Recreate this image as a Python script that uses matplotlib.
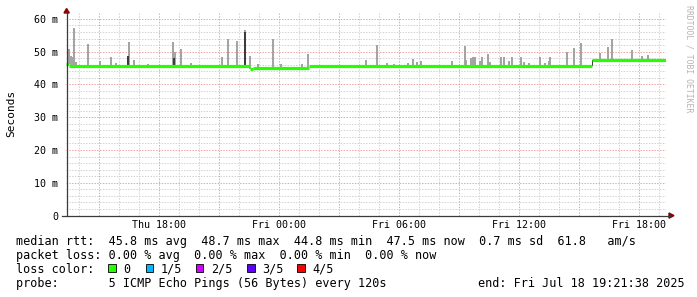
import matplotlib
matplotlib.use("Agg")
import matplotlib.pyplot as plt
import numpy as np
from matplotlib.lines import Line2D
from matplotlib.patches import Polygon, Rectangle

W, H = 697, 297
MONO = "DejaVu Sans Mono"

# time axis: hours since Thu 00:00
T_START = 13.3606   # Thu 13:21:38
T_END = 43.3606     # Fri 19:21:38

# median rtt in ms (step segments: start time, value)
med_t = [13.36, 13.50, 22.55, 22.70, 25.50, 39.68]
med_v = [46.3, 45.5, 44.8, 45.1, 45.6, 47.6]

# smoke: max ping per spike (time h, top ms)
spike_t = [13.49, 13.61, 13.71, 13.76, 13.86, 14.46, 15.06, 15.63, 15.86, 16.51,
           16.74, 17.46, 18.71, 18.81, 19.11, 19.63, 21.16, 21.46, 21.91, 22.31,
           22.58, 22.96, 23.73, 24.11, 25.15, 25.46, 28.36, 28.89, 29.41, 29.76,
           30.46, 30.73, 30.91, 31.11, 32.66, 33.31, 33.36, 33.61, 33.71, 33.81,
           34.06, 34.16, 34.46, 34.56, 35.11, 35.24, 35.51, 35.64, 36.11, 36.26,
           36.51, 37.04, 37.31, 37.51, 37.56, 38.43, 38.74, 38.76, 39.11, 40.04,
           40.46, 40.66, 41.66, 42.16, 42.46]
spike_top = [50.7, 48.6, 48.5, 57.1, 46.7, 52.2, 47.0, 48.5, 46.6, 52.9,
             47.4, 46.2, 52.9, 49.8, 50.9, 46.4, 48.5, 53.9, 53.2, 56.5,
             48.6, 46.3, 53.9, 46.2, 46.3, 49.3, 47.4, 52.0, 46.4, 46.3,
             46.6, 47.7, 46.8, 47.0, 47.0, 51.7, 47.4, 48.2, 48.3, 48.5,
             47.2, 48.3, 49.3, 46.7, 48.3, 48.3, 47.0, 48.5, 48.3, 46.8,
             46.4, 48.3, 46.6, 47.3, 48.5, 49.8, 47.5, 51.0, 52.5, 49.5,
             51.3, 54.0, 50.6, 48.6, 49.0]

# darker inner smoke
dark_t = [13.45, 16.46, 18.76, 22.31, 39.68]
dark_lo = [45.5, 45.2, 45.3, 45.5, 45.5]
dark_hi = [47.6, 48.7, 48.0, 56.0, 47.6]

xtick_pos = [18, 24, 30, 36, 42]
xtick_lab = ["Thu 18:00", "Fri 00:00", "Fri 06:00", "Fri 12:00", "Fri 18:00"]
ytick_pos = [0, 10, 20, 30, 40, 50, 60]
ytick_lab = ["0", "10 m", "20 m", "30 m", "40 m", "50 m", "60 m"]

loss_lab = ["0", "1/5", "2/5", "3/5", "4/5"]
loss_col = ["#26ff00", "#00b8ff", "#d000ff", "#5e00ff", "#ff0000"]


def fx(px):
    return px / W


def fy(py):
    return 1 - py / H


fig = plt.figure(figsize=(W / 100, H / 100), dpi=100)
fig.patch.set_facecolor("white")

# plot area: x 66..666 px, y 13..215.5 px
ax = fig.add_axes([fx(66), fy(215.5), 600 / W, 202.5 / H])
ax.set_xlim(T_START, T_END)
ax.set_ylim(0, 61.8)
for s in ax.spines.values():
    s.set_visible(False)

# grid
dots = (0, (1.4, 1.4))
for h in range(14, 44):
    c = "#eda3a3" if h % 3 == 0 else "#d2d2d2"
    ax.axvline(h, color=c, lw=0.72, ls=dots, zorder=1)
for v in range(2, 62, 2):
    c = "#eda3a3" if v % 10 == 0 else "#d2d2d2"
    ax.axhline(v, color=c, lw=0.72, ls=dots, zorder=1)

# smoke
base = np.array(med_v)[np.searchsorted(med_t, spike_t, side="right") - 1]
ax.bar(spike_t, np.array(spike_top) - base, width=0.1, bottom=base,
       color="#a4a4a4", align="center", zorder=2)
ax.bar(dark_t, np.array(dark_hi) - np.array(dark_lo), width=0.07,
       bottom=dark_lo, color="#3c3c3c", zorder=3)

# median line
ends = med_t[1:] + [T_END]
ax.hlines(med_v, med_t, ends, colors="#26ff00", lw=2.3, zorder=4)

ax.set_xticks(xtick_pos)
ax.set_xticklabels(xtick_lab, fontfamily=MONO, fontsize=7.2)
ax.set_yticks(ytick_pos)
ax.set_yticklabels(ytick_lab, fontfamily=MONO, fontsize=7.2)
ax.tick_params(axis="x", length=0, pad=3.5)
ax.tick_params(axis="y", length=0, pad=5.5)

# axes with arrows
ac = "#3a3a3a"
fig.add_artist(Line2D([fx(66.5), fx(66.5)], [fy(215.5), fy(11)], color=ac, lw=0.9))
fig.add_artist(Line2D([fx(62), fx(670)], [fy(215.5), fy(215.5)], color=ac, lw=0.9))
fig.add_artist(Polygon([[fx(64), fy(13)], [fx(69.3), fy(13)], [fx(66.6), fy(8.5)]],
                       closed=True, color="#8b0000"))
fig.add_artist(Polygon([[fx(669), fy(213)], [fx(669), fy(218.2)], [fx(674), fy(215.6)]],
                       closed=True, color="#8b0000"))

fig.text(fx(11), fy(113), "Seconds", rotation=90, ha="center", va="center",
         fontfamily=MONO, fontsize=8)
fig.text(fx(688.5), fy(5), "RRDTOOL / TOBI OETIKER", rotation=-90, ha="center",
         va="top", fontfamily=MONO, fontsize=5.9, color="#b4b4b4")

# legend rows
fs = 8.5
fig.text(fx(16), fy(245),
         "median rtt:  45.8 ms avg  48.7 ms max  44.8 ms min  47.5 ms now  0.7 ms sd  61.8   am/s",
         fontfamily=MONO, fontsize=fs, va="baseline")
fig.text(fx(16), fy(259),
         "packet loss: 0.00 % avg  0.00 % max  0.00 % min  0.00 % now",
         fontfamily=MONO, fontsize=fs, va="baseline")
fig.text(fx(16), fy(273), "loss color:", fontfamily=MONO, fontsize=fs, va="baseline")
box_x = [108, 145.7, 195.7, 247, 297]
for bx, lab, c in zip(box_x, loss_lab, loss_col):
    fig.add_artist(Rectangle((fx(bx), fy(271.5)), 7.5 / W, 7.5 / H, facecolor=c,
                             edgecolor="black", lw=0.6))
    fig.text(fx(bx + 15), fy(273), lab, fontfamily=MONO, fontsize=fs, va="baseline")
fig.text(fx(16), fy(287), "probe:       5 ICMP Echo Pings (56 Bytes) every 120s",
         fontfamily=MONO, fontsize=fs, va="baseline")
fig.text(fx(478), fy(287), "end: Fri Jul 18 19:21:38 2025",
         fontfamily=MONO, fontsize=fs, va="baseline")

fig.savefig("out.png", dpi=100)
